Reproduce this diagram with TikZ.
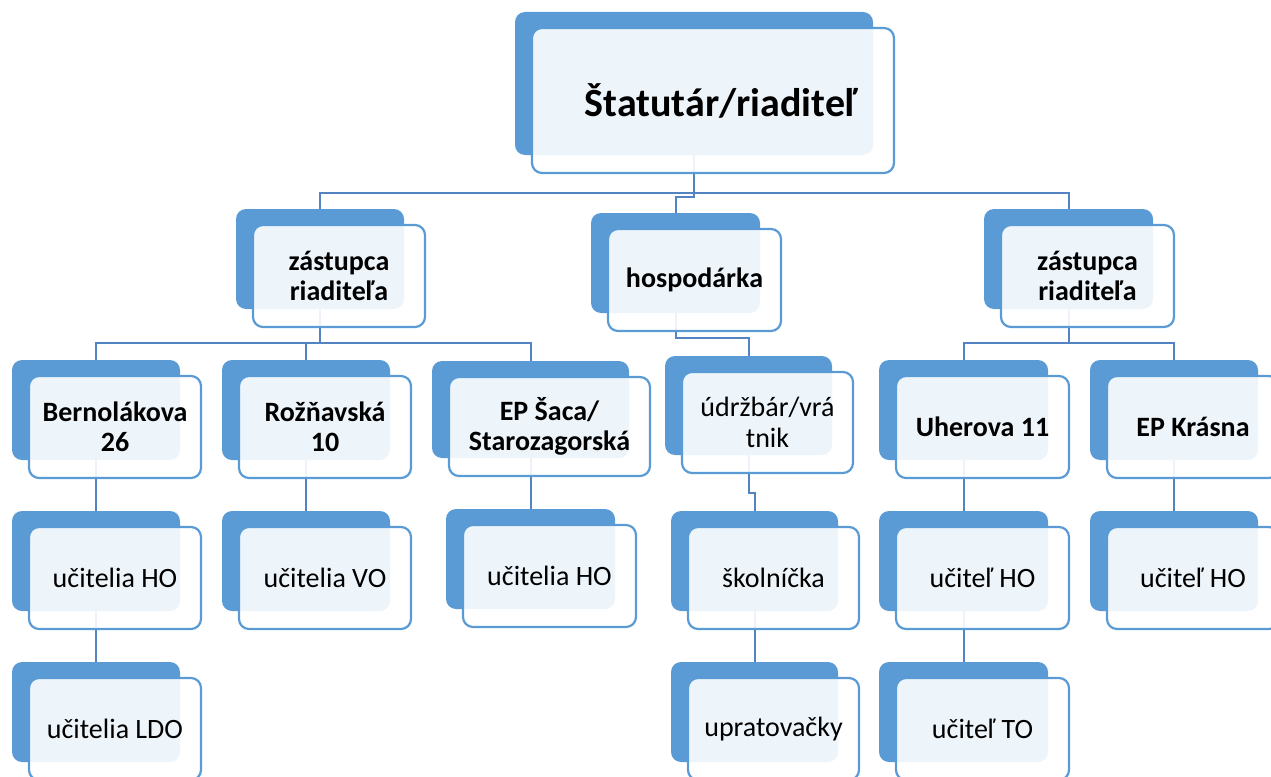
\documentclass[tikz,border=0pt]{standalone}
\usepackage{fontspec}
\setmainfont{Carlito}
\usetikzlibrary{calc}
\definecolor{dk}{HTML}{5B9BD5}
\definecolor{ln}{HTML}{5283C2}
\pgfdeclarelayer{bg}
\pgfsetlayers{bg,main}
\tikzset{
  backbox/.style={fill=dk, draw=none, rounded corners=10pt, inner sep=0pt},
  frontbox/.style={fill=white, fill opacity=0.9, text opacity=1, draw=dk, line width=2.2pt,
     rounded corners=10pt, inner sep=0pt, align=center, text=black},
  conn/.style={draw=ln, line width=2pt},
  bt/.style={font=\fontsize{28}{30.5}\selectfont\bfseries},
  rt/.style={font=\fontsize{28}{30.5}\selectfont},
  tt/.style={font=\fontsize{40}{44}\selectfont\bfseries},
}
% name, x1, y1, x2, y2, style, text
\newcommand\orgbox[7]{%
  \node[backbox, minimum width={#4-#2}, minimum height={#5-#3}] (d#1) at ({(#2+#4)/2},{(#3+#5)/2}) {};
  \node[frontbox, #6, minimum width={#4-#2+4}, minimum height={#5-#3+2}] (f#1) at ({(#2+#4)/2+19},{(#3+#5)/2+17}) {#7};
}
\begin{document}
\begin{tikzpicture}[x=1pt,y=-1pt]
\useasboundingbox (0,0) rectangle (1271,776);
\orgbox{top}{515}{12}{873}{155}{tt}{\hspace*{16pt}Štatutár/riaditeľ}
\orgbox{za}{236}{209}{404}{309}{bt}{zástupca\\riaditeľa}
\orgbox{hosp}{591}{213}{760}{313}{bt}{hospodárka}
\orgbox{zb}{984}{209}{1153}{309}{bt}{zástupca\\riaditeľa}
\orgbox{bern}{12}{360}{180}{460}{bt}{Bernolákova\\26}
\orgbox{roz}{222}{360}{390}{460}{bt}{Rožňavská\\10}
\orgbox{saca}{432}{361}{629}{458}{bt}{EP Šaca/\\Starozagorská}
\orgbox{udrz}{665}{356}{832}{455}{rt}{údržbár/vrá\\tnik}
\orgbox{uher}{879}{360}{1048}{460}{bt}{Uherova 11}
\orgbox{kras}{1090}{360}{1258}{460}{bt}{EP Krásna}
\orgbox{uhol}{12}{511}{180}{611}{rt}{učitelia HO}
\orgbox{uvo}{222}{511}{390}{611}{rt}{učitelia VO}
\orgbox{uhom}{446}{509}{615}{609}{rt}{učitelia HO}
\orgbox{skol}{671}{511}{838}{611}{rt}{školníčka}
\orgbox{uchu}{879}{511}{1048}{611}{rt}{učiteľ HO}
\orgbox{uchk}{1090}{511}{1258}{611}{rt}{učiteľ HO}
\orgbox{ldo}{12}{662}{180}{762}{rt}{učitelia LDO}
\orgbox{upr}{671}{662}{838}{762}{rt}{upratovačky}
\orgbox{uto}{879}{662}{1048}{762}{rt}{učiteľ TO}
\begin{pgfonlayer}{bg}
  \draw[conn] (dza.north) -- ++(0,-16) -| (dzb.north);
  \draw[conn] (dtop.south) -- ++(0,42) -| (dhosp.north);
  \draw[conn] (dza.south) -- ++(0,34);
  \draw[conn] (dbern.north) -- ++(0,-17) -| (dsaca.north);
  \draw[conn] (droz.north) -- ++(0,-17);
  \draw[conn] (dhosp.south) -- ++(0,25) -| (dudrz.north);
  \draw[conn] (dzb.south) -- ++(0,34);
  \draw[conn] (duher.north) -- ++(0,-17) -| (dkras.north);
  \draw[conn] (dbern.south) -- (duhol.north);
  \draw[conn] (duhol.south) -- (dldo.north);
  \draw[conn] (droz.south) -- (duvo.north);
  \draw[conn] (dsaca.south) -- (duhom.north);
  \draw[conn] (dudrz.south) -- ++(0,38) -| (dskol.north);
  \draw[conn] (dskol.south) -- (dupr.north);
  \draw[conn] (duher.south) -- (duchu.north);
  \draw[conn] (duchu.south) -- (duto.north);
  \draw[conn] (dkras.south) -- (duchk.north);
\end{pgfonlayer}
\end{tikzpicture}
\end{document}
